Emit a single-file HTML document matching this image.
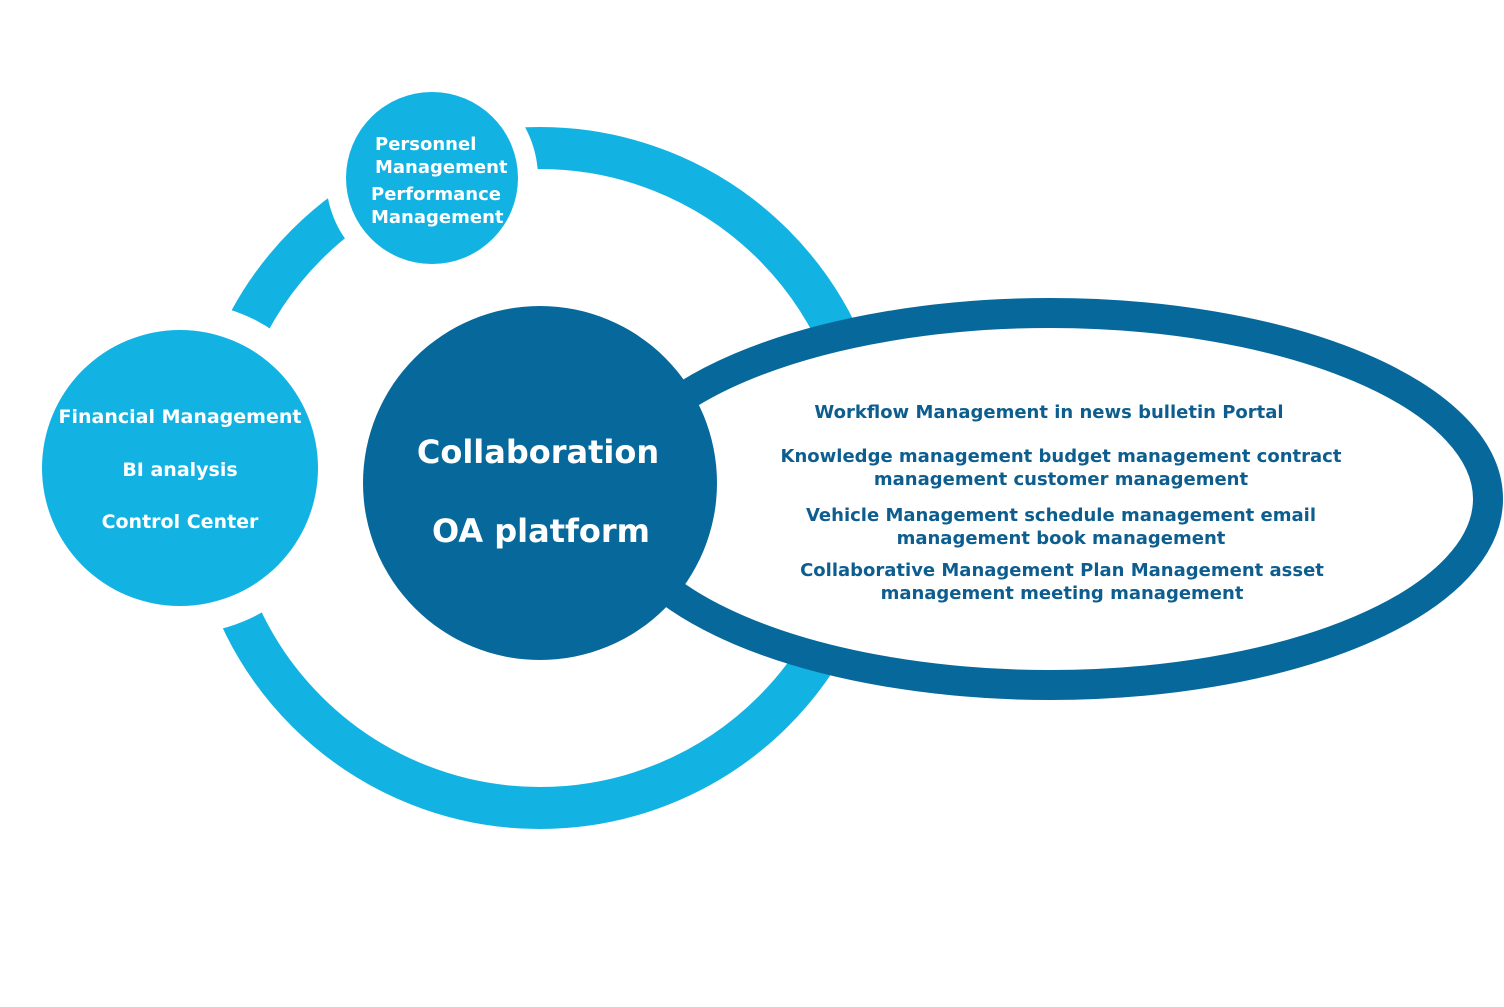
<!DOCTYPE html>
<html><head><meta charset="utf-8"><style>
html,body{margin:0;padding:0;background:#fff;}
svg{display:block}
text{font-family:"DejaVu Sans","Liberation Sans",sans-serif;font-weight:bold;}
</style></head><body>
<svg width="1504" height="1007" viewBox="0 0 1504 1007" xmlns="http://www.w3.org/2000/svg">
<rect width="1504" height="1007" fill="#fff"/>
<circle cx="540" cy="478" r="330" fill="none" stroke="#12b3e3" stroke-width="42"/>
<circle cx="432" cy="178" r="106" fill="#fff"/>
<circle cx="180" cy="468" r="166" fill="#fff"/>
<ellipse cx="1050" cy="499" rx="438" ry="186" fill="#fff" stroke="#07699b" stroke-width="30"/>
<circle cx="540" cy="483" r="177" fill="#07699b"/>
<circle cx="432" cy="178" r="86" fill="#12b3e3"/>
<circle cx="180" cy="468" r="138" fill="#12b3e3"/>
<g fill="#fff" font-size="18">
<text x="375" y="150">Personnel</text>
<text x="375" y="173">Management</text>
<text x="371" y="200">Performance</text>
<text x="371" y="223">Management</text>
</g>
<g fill="#fff" font-size="19" text-anchor="middle">
<text x="180" y="423">Financial Management</text>
<text x="180" y="476">BI analysis</text>
<text x="180" y="528">Control Center</text>
</g>
<g fill="#fff" font-size="32" text-anchor="middle">
<text x="538" y="463">Collaboration</text>
<text x="541" y="542">OA platform</text>
</g>
<g fill="#0d5e8f" font-size="18" text-anchor="middle">
<text x="1049" y="418">Workflow Management in news bulletin Portal</text>
<text x="1061" y="462">Knowledge management budget management contract</text>
<text x="1061" y="485">management customer management</text>
<text x="1061" y="521">Vehicle Management schedule management email</text>
<text x="1061" y="544">management book management</text>
<text x="1062" y="576">Collaborative Management Plan Management asset</text>
<text x="1062" y="599">management meeting management</text>
</g>
</svg>
</body></html>
